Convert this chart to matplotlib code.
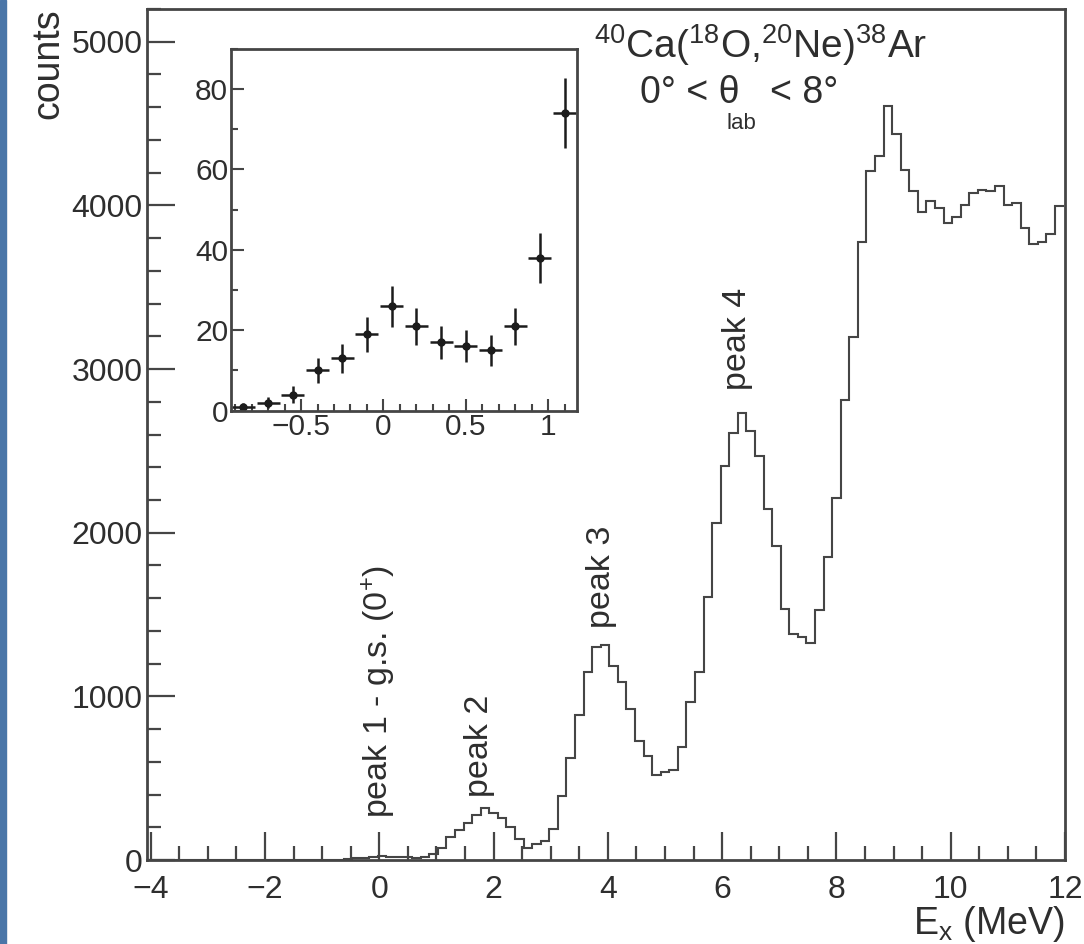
import numpy as np
import matplotlib
matplotlib.use("Agg")
import matplotlib.pyplot as plt
from matplotlib.ticker import MultipleLocator, FixedLocator, FixedFormatter
from matplotlib.patches import Rectangle

plt.rcParams['font.family'] = ['Liberation Sans', 'DejaVu Sans']
plt.rcParams['mathtext.fontset'] = 'custom'
plt.rcParams['mathtext.rm'] = 'Liberation Sans'
plt.rcParams['mathtext.it'] = 'Liberation Sans:italic'
plt.rcParams['axes.unicode_minus'] = True

W, H = 1084, 944
INK = '#2e2e2e'
LINE = '#454545'

# binning of the spectrum (0.15 MeV bins)
bin_lo = -4.075
bin_w = 0.15

# counts per bin, from E_x = -4.0 MeV upwards
counts_low = [0, 0, 0, 0, 0, 0, 0, 0, 0, 0, 0, 0, 0, 1, 0, 0, 1, 0, 1, 1, 2]
counts_gs = [1, 2, 4, 10, 13, 19, 26, 21, 17, 16, 15, 21, 38, 74]
counts_peak2 = [138, 183, 228, 275, 316, 289, 255, 204, 126, 75, 95, 118, 192]
counts_peak3 = [390, 625, 885, 1150, 1303, 1313, 1188, 1090, 924, 726, 638,
                517, 539, 550, 693, 968]
counts_peak4 = [1148, 1604, 2062, 2407, 2612, 2730, 2624, 2470, 2147, 1920,
                1533, 1384, 1361, 1325]
counts_high = [1526, 1849, 2211, 2813, 3198, 3776, 4210, 4300, 4607, 4435,
               4218, 4088, 3958, 4029, 3981, 3894, 3927, 4000, 4076, 4092,
               4088, 4116, 4005, 4012, 3863, 3764, 3776, 3823, 3998]

counts = np.array(counts_low + counts_gs + counts_peak2 + counts_peak3
                  + counts_peak4 + counts_high, dtype=float)
edges = bin_lo + bin_w * np.arange(len(counts) + 1)

# inset: zoom on the ground state region
inset_x = [-0.85, -0.70, -0.55, -0.40, -0.25, -0.10, 0.05, 0.20, 0.35, 0.50,
           0.65, 0.80, 0.95, 1.10]
inset_y = counts_gs
inset_err = [1.0, 1.4, 2.0, 3.2, 3.6, 4.4, 5.1, 4.6, 4.1, 4.0, 3.9, 4.6, 6.2, 8.6]

peak_labels = [r'peak 1 - g.s. (0$^{+}$)', 'peak 2', 'peak 3', 'peak 4']
peak_x = [0.0, 1.75, 3.88, 6.26]
peak_y = [257, 385, 1415, 2872]


def fpos(x, y):
    return x / W, 1 - y / H


fig = plt.figure(figsize=(W / 100, H / 100), dpi=100)
fig.patches.append(Rectangle((0, 0), 6 / W, 1, transform=fig.transFigure,
                             color='#4a76a8', zorder=0))

l, r, t, b = 146.5, 1065, 9, 860
ax = fig.add_axes([l / W, 1 - b / H, (r - l) / W, (b - t) / H])
ax.stairs(counts, edges, baseline=None, color=LINE, lw=1.5)
ax.set_xlim(-4.075, 12.0)
ax.set_ylim(0, 5200)
ax.xaxis.set_major_locator(MultipleLocator(2))
ax.xaxis.set_minor_locator(MultipleLocator(0.5))
ax.yaxis.set_major_locator(MultipleLocator(1000))
ax.yaxis.set_minor_locator(MultipleLocator(200))
ax.tick_params(which='both', direction='in', color=LINE, width=1.6,
               labelsize=23, labelcolor=INK, top=False, right=False)
ax.tick_params(axis='x', which='major', length=20, pad=11)
ax.tick_params(axis='x', which='minor', length=10)
ax.tick_params(axis='y', which='major', length=20, pad=3)
ax.tick_params(axis='y', which='minor', length=10)
for s in ax.spines.values():
    s.set_color(LINE)
    s.set_linewidth(2)

for lab, x, y in zip(peak_labels, peak_x, peak_y):
    ax.text(x, y, lab, rotation=90, ha='center', va='bottom',
            fontsize=24.5, color=INK)

fig.text(*fpos(48, 8), 'counts', rotation=90, ha='center', va='top',
         fontsize=27, color=INK)
fig.text(*fpos(1065, 934), r'E$_{\rm x}$ (MeV)', ha='right', va='baseline',
         fontsize=27, color=INK)

fig.text(*fpos(927, 58), r'$^{40}$Ca($^{18}$O,$^{20}$Ne)$^{38}$Ar',
         ha='right', va='baseline', fontsize=28, color=INK)
fig.text(*fpos(640, 103), '0° < θ', ha='left', va='baseline',
         fontsize=27, color=INK)
fig.text(*fpos(727, 129), 'lab', ha='left', va='baseline',
         fontsize=16, color=INK)
fig.text(*fpos(770, 103), '< 8°', ha='left', va='baseline',
         fontsize=27, color=INK)

# inset
il, ir, it, ib = 231, 577, 48.7, 410.6
axi = fig.add_axes([il / W, 1 - ib / H, (ir - il) / W, (ib - it) / H])
axi.errorbar(inset_x, inset_y, xerr=0.07, yerr=inset_err, fmt='o', ms=5,
             color='#1c1c1c', elinewidth=1.8, capsize=0)
axi.set_xlim(-0.925, 1.175)
axi.set_ylim(0, 90)
axi.xaxis.set_major_locator(FixedLocator([-0.5, 0, 0.5, 1]))
axi.xaxis.set_major_formatter(FixedFormatter(['\u22120.5', '0', '0.5', '1']))
axi.xaxis.set_minor_locator(MultipleLocator(0.1))
axi.yaxis.set_major_locator(MultipleLocator(20))
axi.yaxis.set_minor_locator(MultipleLocator(10))
axi.tick_params(which='both', direction='in', color=LINE, width=1.5,
                labelsize=21.5, labelcolor=INK, top=False, right=False)
axi.tick_params(which='major', length=9, pad=2)
axi.tick_params(which='minor', length=5)
for s in axi.spines.values():
    s.set_color(LINE)
    s.set_linewidth(2)

fig.savefig('out.png', dpi=100)
